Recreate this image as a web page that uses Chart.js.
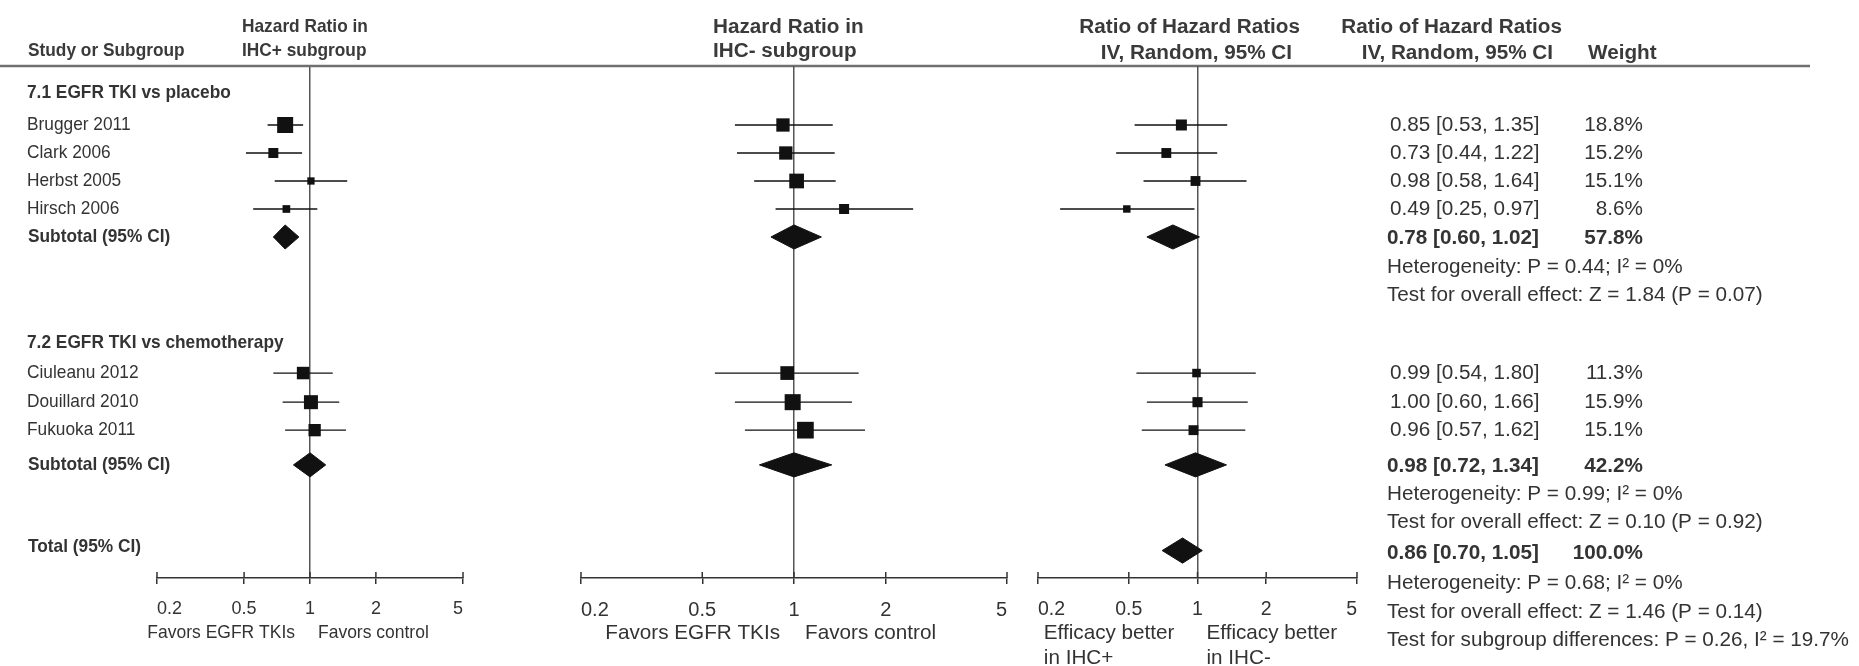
<!DOCTYPE html>
<html>
<head>
<meta charset="utf-8">
<script src="https://cdn.jsdelivr.net/npm/chart.js@4/dist/chart.umd.min.js"></script>
<style>
  html, body { margin: 0; padding: 0; background: #fff; }
  #wrap { position: relative; width: 1859px; height: 666px; }
  #wrap canvas { position: absolute; left: 0; top: 0; }
</style>
</head>
<body>
<div id="wrap">
  <canvas id="pos" width="1859" height="666"></canvas>
  <canvas id="neg" width="1859" height="666"></canvas>
  <canvas id="ratio" width="1859" height="666"></canvas>
</div>
<script>
// -------------------------
// Data
// -------------------------
const studies = ["Brugger 2011", "Clark 2006", "Herbst 2005", "Hirsch 2006",
                 "Ciuleanu 2012", "Douillard 2010", "Fukuoka 2011"];
const studyRows = [1, 2, 3, 4, 9.86, 10.9, 11.9];
const groupTitles = ["7.1 EGFR TKI vs placebo", "7.2 EGFR TKI vs chemotherapy"];
const groupRows = [-0.14, 8.8];
const subtotalRows = [5, 13.14];
const totalRow = 16.2;

// Hazard ratio in IHC+ subgroup
const posHR = [0.77, 0.68, 1.01, 0.78, 0.93, 1.01, 1.05];
const posLo = [0.64, 0.51, 0.69, 0.55, 0.68, 0.75, 0.77];
const posHi = [0.93, 0.92, 1.48, 1.08, 1.27, 1.36, 1.46];
const posWeight = [26.4, 10.3, 5.5, 6.1, 16.1, 20.2, 15.6];
const posSubHR = [0.77, 1.00];
const posSubLo = [0.68, 0.84];
const posSubHi = [0.89, 1.18];

// Hazard ratio in IHC- subgroup
const negHR = [0.92, 0.94, 1.02, 1.46, 0.95, 0.99, 1.09];
const negLo = [0.64, 0.65, 0.74, 0.87, 0.55, 0.64, 0.69];
const negHi = [1.34, 1.36, 1.37, 2.46, 1.63, 1.55, 1.71];
const negWeight = [12.7, 12.7, 15.5, 7.2, 13.5, 18.4, 20.0];
const negSubHR = [1.00, 1.00];
const negSubLo = [0.84, 0.77];
const negSubHi = [1.23, 1.33];

// Ratio of hazard ratios, IV random
const ratioHR = [0.85, 0.73, 0.98, 0.49, 0.99, 1.00, 0.96];
const ratioLo = [0.53, 0.44, 0.58, 0.25, 0.54, 0.60, 0.57];
const ratioHi = [1.35, 1.22, 1.64, 0.97, 1.80, 1.66, 1.62];
const ratioWeight = [18.8, 15.2, 15.1, 8.6, 11.3, 15.9, 15.1];
const ratioSubHR = [0.78, 0.98];
const ratioSubLo = [0.60, 0.72];
const ratioSubHi = [1.02, 1.34];
const ratioSubWeight = [57.8, 42.2];
const totalHR = 0.86, totalLo = 0.70, totalHi = 1.05, totalWeight = 100.0;

const tickValues = [0.2, 0.5, 1, 2, 5];

const heterogeneity = ["Heterogeneity: P = 0.44; I² = 0%",
                       "Heterogeneity: P = 0.99; I² = 0%",
                       "Heterogeneity: P = 0.68; I² = 0%"];
const overallEffect = ["Test for overall effect: Z = 1.84 (P = 0.07)",
                       "Test for overall effect: Z = 0.10 (P = 0.92)",
                       "Test for overall effect: Z = 1.46 (P = 0.14)"];
const subgroupDiff = "Test for subgroup differences: P = 0.26, I² = 19.7%";
const statRows = [[6.1, 7.1], [14.2, 15.2], [17.36, 18.4]];
const subgroupDiffRow = 19.4;
const totalTextRow = 16.3;
const totalLabelRow = 16.07;

// -------------------------
// Look
// -------------------------
const INK = "#111";
const TEXT = "#333";
const HEAD = "#3a3a3a";
const AXIS = "#333";
const FONT = '"Liberation Sans", Arial, sans-serif';
const ROW_TOP = -1.107, ROW_BOTTOM = 17.18;   // rows at header rule / axis
const L = 18.5, LSX = 0.935;                    // left block: tall, slightly narrow text
const R = 20.7;

const fmt = (v) => v.toFixed(2);

// -------------------------
// Plugins
// -------------------------
function drawText(ctx, text, x, y, sx) {
  ctx.save();
  ctx.translate(x, y);
  ctx.scale(sx || 1, 1);
  ctx.fillText(text, 0, 0);
  ctx.restore();
}

function textPlugin(cells) {
  return {
    id: "tableText",
    afterDraw(chart) {
      const ctx = chart.ctx, y = chart.scales.y;
      ctx.save();
      ctx.textBaseline = "middle";
      cells.forEach(c => {
        ctx.font = `${c.bold ? "bold " : ""}${c.size}px ${FONT}`;
        ctx.fillStyle = c.color || TEXT;
        ctx.textAlign = c.align || "left";
        drawText(ctx, c.text, c.x, y.getPixelForValue(c.row), c.sx);
      });
      ctx.restore();
    }
  };
}

function axisExtras(p) {
  return {
    id: "axisExtras",
    afterDraw(chart) {
      const ctx = chart.ctx, x = chart.scales.x, bottom = chart.chartArea.bottom;
      ctx.save();
      ctx.strokeStyle = AXIS;
      ctx.lineWidth = 1.5;
      tickValues.forEach(v => {
        const px = x.getPixelForValue(v);
        ctx.beginPath();
        ctx.moveTo(px, bottom - 6);
        ctx.lineTo(px, bottom);
        ctx.stroke();
      });
      ctx.font = `${p.sideSize}px ${FONT}`;
      ctx.fillStyle = TEXT;
      ctx.textBaseline = "middle";
      ctx.textAlign = "left";
      const sx = p.sideSx || 1;
      const one = x.getPixelForValue(1);
      const wL = sx * Math.max(...p.sideLeft.map(t => ctx.measureText(t).width));
      p.sideLeft.forEach((t, i) => drawText(ctx, t, one - p.gapL - wL, bottom + 55 + i * 25, sx));
      p.sideRight.forEach((t, i) => drawText(ctx, t, one + p.gapR, bottom + 55 + i * 25, sx));
      ctx.restore();
    }
  };
}

// -------------------------
// Forest panel
// -------------------------
function forestPanel(p) {
  const datasets = [];
  const maxW = Math.max(...p.weight);

  // squares
  datasets.push({
    data: p.est.map((e, i) => ({ x: e, y: studyRows[i] })),
    pointStyle: "rect",
    pointRadius: p.weight.map(w => p.maxSide * Math.sqrt(w / maxW) / Math.SQRT2),
    backgroundColor: INK,
    borderWidth: 0,
    showLine: false,
    order: 0
  });

  // confidence intervals
  p.est.forEach((e, i) => {
    datasets.push({
      data: [{ x: p.lo[i], y: studyRows[i] }, { x: p.hi[i], y: studyRows[i] }],
      showLine: true,
      borderColor: INK,
      borderWidth: 1.3,
      pointRadius: 0,
      fill: false,
      order: 1
    });
  });

  // diamonds
  p.diamonds.forEach(d => {
    datasets.push({
      data: [{ x: d.lo, y: d.row }, { x: d.est, y: d.row - d.h }, { x: d.hi, y: d.row },
             { x: d.est, y: d.row + d.h }, { x: d.lo, y: d.row }],
      showLine: true,
      fill: "shape",
      backgroundColor: INK,
      borderColor: INK,
      borderWidth: 1,
      pointRadius: 0,
      tension: 0,
      order: 0
    });
  });

  const plugins = [axisExtras(p)];
  if (p.cells) plugins.push(textPlugin(p.cells));

  return new Chart(document.getElementById(p.canvas), {
    type: "scatter",
    data: { datasets },
    plugins,
    options: {
      responsive: false,
      animation: false,
      events: [],
      layout: { padding: { left: p.left, right: 1859 - p.right, top: 66, bottom: 44 } },
      plugins: { legend: { display: false }, tooltip: { enabled: false } },
      scales: {
        x: {
          type: "logarithmic",
          min: 0.2,
          max: 5,
          afterBuildTicks: (s) => { s.ticks = tickValues.map(v => ({ value: v })); },
          afterFit: (s) => { s.height = 44; },
          ticks: {
            callback: (v) => String(v),
            align: "inner",
            autoSkip: false,
            maxRotation: 0,
            padding: 14,
            color: TEXT,
            font: { family: FONT, size: p.tickSize }
          },
          grid: {
            color: (c) => (c.tick && c.tick.value === 1) ? "#555" : "rgba(0,0,0,0)",
            lineWidth: 1.5,
            tickColor: AXIS,
            tickLength: 6,
            drawTicks: true
          },
          border: { display: true, color: AXIS, width: 1.5 }
        },
        y: { type: "linear", min: ROW_TOP, max: ROW_BOTTOM, reverse: true, display: false }
      }
    }
  });
}

// -------------------------
// Text cells
// -------------------------
const leftCells = [
  { text: "Study or Subgroup", x: 28, row: -1.65, bold: true, size: L, sx: LSX, color: HEAD },
  { text: "Hazard Ratio in", x: 242, row: -2.5, bold: true, size: L, sx: LSX, color: HEAD },
  { text: "IHC+ subgroup", x: 242, row: -1.65, bold: true, size: L, sx: LSX, color: HEAD },
  { text: "Hazard Ratio in", x: 713, row: -2.5, bold: true, size: R, color: HEAD },
  { text: "IHC- subgroup", x: 713, row: -1.65, bold: true, size: R, color: HEAD },
  { text: "Ratio of Hazard Ratios", x: 1300, row: -2.5, bold: true, size: R, align: "right", color: HEAD },
  { text: "IV, Random, 95% CI", x: 1292, row: -1.55, bold: true, size: R, align: "right", color: HEAD },
  { text: "Ratio of Hazard Ratios", x: 1562, row: -2.5, bold: true, size: R, align: "right", color: HEAD },
  { text: "IV, Random, 95% CI", x: 1553, row: -1.55, bold: true, size: R, align: "right", color: HEAD },
  { text: "Weight", x: 1588, row: -1.55, bold: true, size: R, color: HEAD },
  { text: "Total (95% CI)", x: 28, row: totalLabelRow, bold: true, size: L, sx: LSX }
];
groupTitles.forEach((t, g) => {
  leftCells.push({ text: t, x: 27, row: groupRows[g], bold: true, size: L, sx: LSX });
  leftCells.push({ text: "Subtotal (95% CI)", x: 28, row: subtotalRows[g], bold: true, size: L, sx: LSX });
});
studies.forEach((s, i) => {
  leftCells.push({ text: s, x: 27, row: studyRows[i], size: L, sx: LSX });
  leftCells.push({ text: `${fmt(ratioHR[i])} [${fmt(ratioLo[i])}, ${fmt(ratioHi[i])}]`, x: 1390, row: studyRows[i], size: R });
  leftCells.push({ text: `${ratioWeight[i].toFixed(1)}%`, x: 1643, row: studyRows[i], size: R, align: "right" });
});
ratioSubHR.forEach((e, g) => {
  leftCells.push({ text: `${fmt(e)} [${fmt(ratioSubLo[g])}, ${fmt(ratioSubHi[g])}]`, x: 1387, row: subtotalRows[g] + 0.05, bold: true, size: R });
  leftCells.push({ text: `${ratioSubWeight[g].toFixed(1)}%`, x: 1643, row: subtotalRows[g] + 0.05, bold: true, size: R, align: "right" });
});
leftCells.push({ text: `${fmt(totalHR)} [${fmt(totalLo)}, ${fmt(totalHi)}]`, x: 1387, row: totalTextRow, bold: true, size: R });
leftCells.push({ text: `${totalWeight.toFixed(1)}%`, x: 1643, row: totalTextRow, bold: true, size: R, align: "right" });
heterogeneity.forEach((t, k) => {
  leftCells.push({ text: t, x: 1387, row: statRows[k][0], size: R });
  leftCells.push({ text: overallEffect[k], x: 1387, row: statRows[k][1], size: R });
});
leftCells.push({ text: subgroupDiff, x: 1387, row: subgroupDiffRow, size: R });

// header rule
const headerRule = {
  id: "headerRule",
  afterDraw(chart) {
    const ctx = chart.ctx;
    ctx.save();
    ctx.strokeStyle = "#707070";
    ctx.lineWidth = 2.5;
    ctx.beginPath();
    ctx.moveTo(0, chart.chartArea.top);
    ctx.lineTo(1810, chart.chartArea.top);
    ctx.stroke();
    ctx.restore();
  }
};
Chart.register(headerRule);

// -------------------------
// Render
// -------------------------
forestPanel({
  canvas: "pos", left: 157, right: 463, tickSize: 18, sideSize: 18.5, sideSx: 0.945,
  sideLeft: ["Favors EGFR TKIs"], sideRight: ["Favors control"], gapL: 15, gapR: 8,
  maxSide: 16, est: posHR, lo: posLo, hi: posHi, weight: posWeight,
  diamonds: posSubHR.map((e, g) => ({ est: e, lo: posSubLo[g], hi: posSubHi[g], row: subtotalRows[g], h: 0.43 })),
  cells: leftCells
});
Chart.unregister(headerRule);

forestPanel({
  canvas: "neg", left: 581, right: 1007, tickSize: 20, sideSize: R,
  sideLeft: ["Favors EGFR TKIs"], sideRight: ["Favors control"], gapL: 14, gapR: 11,
  maxSide: 16.7, est: negHR, lo: negLo, hi: negHi, weight: negWeight,
  diamonds: negSubHR.map((e, g) => ({ est: e, lo: negSubLo[g], hi: negSubHi[g], row: subtotalRows[g], h: 0.43 }))
});

forestPanel({
  canvas: "ratio", left: 1038, right: 1357, tickSize: 19.5, sideSize: R,
  sideLeft: ["Efficacy better", "in IHC+"], sideRight: ["Efficacy better", "in IHC-"], gapL: 23, gapR: 9,
  maxSide: 11, est: ratioHR, lo: ratioLo, hi: ratioHi, weight: ratioWeight,
  diamonds: ratioSubHR.map((e, g) => ({ est: e, lo: ratioSubLo[g], hi: ratioSubHi[g], row: subtotalRows[g], h: 0.43 }))
    .concat([{ est: totalHR, lo: totalLo, hi: totalHi, row: totalRow, h: 0.45 }])
});
</script>
</body>
</html>
